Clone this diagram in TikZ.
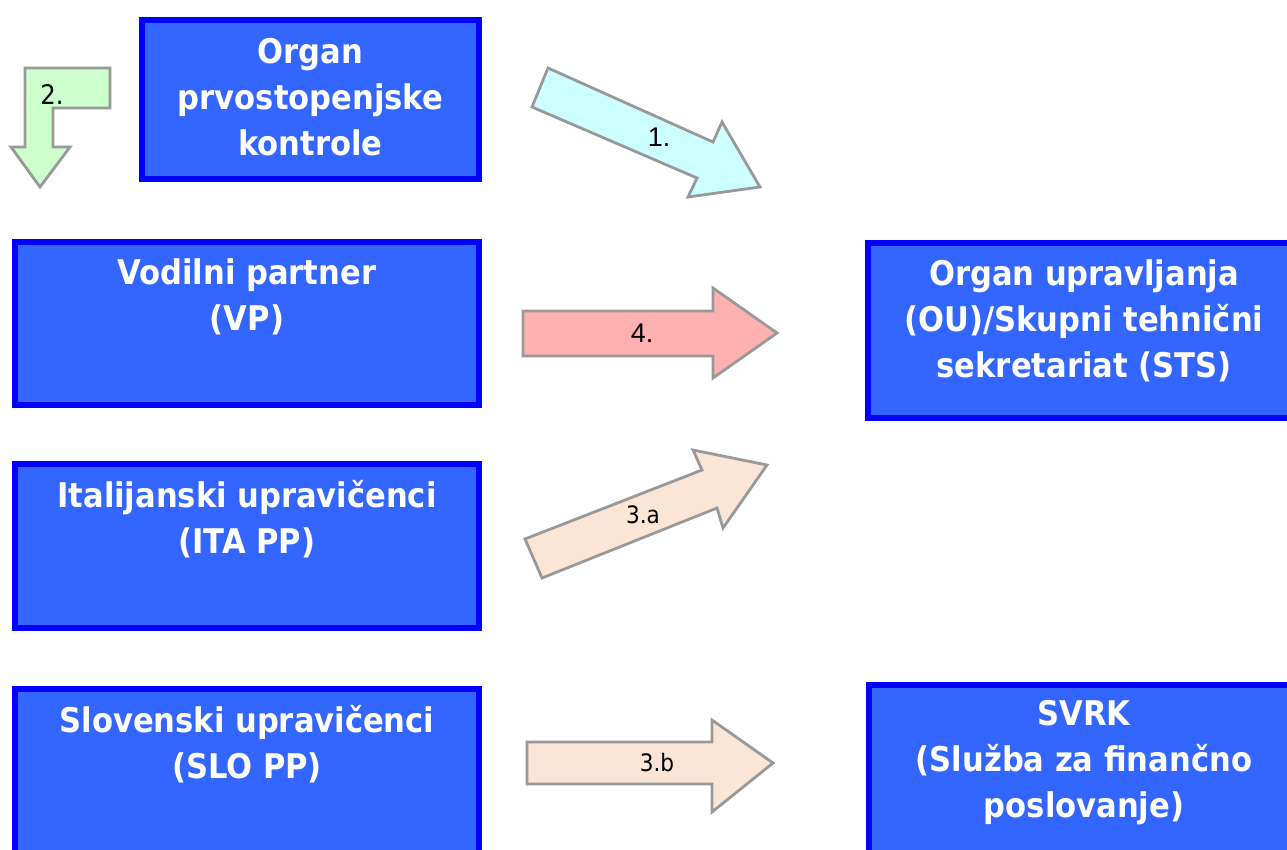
\documentclass[tikz,border=0pt]{standalone}
\usepackage{fontspec}
\setmainfont{DejaVu Sans Condensed}
\newfontfamily\arialfont{Liberation Sans}
\definecolor{boxfill}{HTML}{3366FF}
\definecolor{boxline}{HTML}{0000FF}
\definecolor{arrowline}{HTML}{999999}
\definecolor{cyanfill}{HTML}{CCFFFF}
\definecolor{pinkfill}{HTML}{FFB0B0}
\definecolor{greenfill}{HTML}{CCFFCC}
\definecolor{peachfill}{HTML}{FBE5D6}
\tikzset{
  panel/.style={draw=boxline, fill=boxfill, line width=6pt, inner sep=0pt, anchor=north west},
  paneltext/.style={text=white, font=\bfseries\fontsize{34}{46}\selectfont,
    align=center, inner sep=0pt, anchor=north},
  blockarrow/.style={draw=arrowline, line width=2.8pt, line join=miter},
  numlabel/.style={inner sep=0pt, font=\arialfont\fontsize{27}{29}\selectfont},
  steplabel/.style={inner sep=0pt, font=\fontsize{24}{26}\selectfont},
}
\begin{document}
\begin{tikzpicture}[x=1pt,y=-1pt]
  \useasboundingbox (0,0) rectangle (1287,849);
  \clip (0,0) rectangle (1287,849);

  % boxes
  \node[panel, minimum width=337pt, minimum height=159pt] (ctrl) at (139,17) {};
  \node[panel, minimum width=464pt, minimum height=163pt] (vp) at (12,239) {};
  \node[panel, minimum width=464pt, minimum height=164pt] (ita) at (12,461) {};
  \node[panel, minimum width=464pt, minimum height=214pt] (slo) at (12,686) {};
  \node[panel, minimum width=432pt, minimum height=175pt] (ou) at (865,240) {};
  \node[panel, minimum width=430pt, minimum height=218pt] (svrk) at (866,682) {};

  % box texts
  \node[paneltext] (ctrltxt) at ([yshift=-21pt]ctrl.north) {Organ\\prvostopenjske\\kontrole};
  \node[paneltext] (vptxt) at ([yshift=-19pt]vp.north) {Vodilni partner\\(VP)};
  \node[paneltext] (itatxt) at ([yshift=-19pt]ita.north) {Italijanski upravičenci\\(ITA PP)};
  \node[paneltext] (slotxt) at ([yshift=-19pt]slo.north) {Slovenski upravičenci\\(SLO PP)};
  \node[paneltext] (outxt) at ([yshift=-19pt]ou.north) {Organ upravljanja\\(OU)/Skupni tehnični\\sekretariat (STS)};
  \node[paneltext] (svrktxt) at ([yshift=-18pt]svrk.north) {SVRK\\(Služba za finančno\\poslovanje)};

  % block arrows
  \draw[blockarrow, fill=greenfill] (25,68) -- (110,68) -- (110,108) -- (53,108) -- (53,147)
    -- (70,147) -- (40,187) -- (11,147) -- (25,147) -- cycle;
  \node[steplabel, font=\fontsize{27}{29}\selectfont] (l2) at (52,94) {2.};

  \draw[blockarrow, fill=cyanfill] (548,68) -- (713,142) -- (722,122) -- (760,187)
    -- (688,197) -- (697,178) -- (532,107) -- cycle;
  \node[numlabel] (l1) at (659,137) {1.};

  \draw[blockarrow, fill=pinkfill] (523,311) -- (713,311) -- (713,288) -- (777,333)
    -- (713,378) -- (713,356) -- (523,356) -- cycle;
  \node[numlabel] (l4) at (642,333) {4.};

  \draw[blockarrow, fill=peachfill] (525,539) -- (702,470) -- (693,450) -- (767,465)
    -- (723,528) -- (717,508) -- (542,578) -- cycle;
  \node[steplabel] (l3a) at (643,515) {3.a};

  \draw[blockarrow, fill=peachfill] (527,742) -- (712,742) -- (712,720) -- (773,763)
    -- (712,812) -- (712,784) -- (527,784) -- cycle;
  \node[steplabel] (l3b) at (657,763) {3.b};
\end{tikzpicture}
\end{document}
